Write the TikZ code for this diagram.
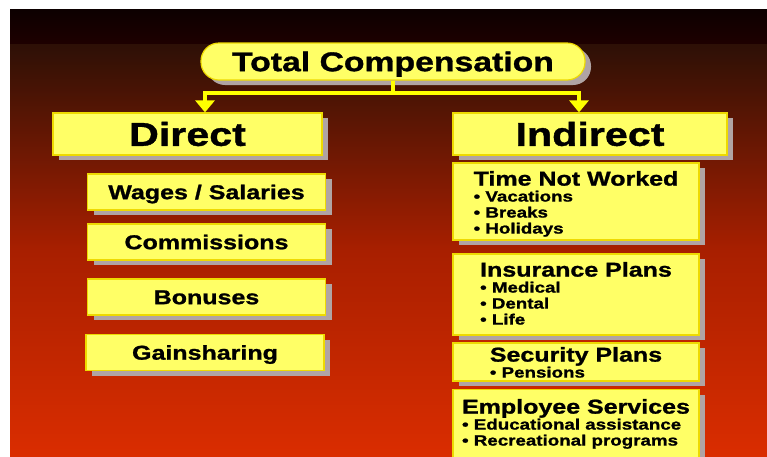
\documentclass[tikz,border=0pt]{standalone}
\usepackage{fontspec}
\newfontfamily\cfont{Liberation Sans}[FakeStretch=1.25, BoldFeatures={FakeBold=1.2}]
\usepackage{tikz}
\usetikzlibrary{positioning,shadows,arrows.meta}
\usepackage{xcolor}
\definecolor{boxyellow}{RGB}{255,255,102}
\definecolor{boxedge}{RGB}{238,218,0}
\definecolor{linkyellow}{RGB}{255,255,0}
\definecolor{shadowgray}{RGB}{176,164,164}
\definecolor{bandtop}{RGB}{12,0,0}
\definecolor{bandbot}{RGB}{30,0,0}
\definecolor{bgtop}{RGB}{45,16,6}
\definecolor{bgmid}{RGB}{168,31,0}
\definecolor{bgbot}{RGB}{218,45,0}

\begin{document}
\begin{tikzpicture}[
    x=1pt, y=-1pt,
    box/.style={draw=boxedge, line width=1.2pt, fill=boxyellow, inner sep=0pt,
        drop shadow={shadow xshift=6pt, shadow yshift=-5pt, fill=shadowgray, opacity=1}},
    head/.style={box, minimum height=42pt, text height=23.6pt, text depth=0pt,
        font=\cfont\bfseries\fontsize{33}{36}\selectfont},
    item/.style={box, minimum width=238pt, minimum height=36pt, text height=14.3pt, text depth=0pt,
        font=\cfont\bfseries\fontsize{20}{24}\selectfont},
    panel/.style={box, minimum width=246pt},
    blurb/.style={align=left, inner sep=0pt, font=\cfont\bfseries\fontsize{15}{16}\selectfont},
    link/.style={draw=linkyellow, line width=4pt},
    tip/.style={-{Triangle[width=19pt, length=12pt]}}
]
    % Background
    \fill[white] (0,0) rectangle (767,456);
    \shade[top color=bandtop, bottom color=bandbot] (10,9) rectangle (767,44);
    \shade[top color=bgtop, bottom color=bgbot, middle color=bgmid] (10,44) rectangle (767,456);
    \useasboundingbox (0,0) rectangle (767,456);

    % Top
    \node[box, rounded corners=18pt, minimum width=384pt, minimum height=37pt,
        text height=19.3pt, text depth=0pt,
        font=\cfont\bfseries\fontsize{27}{30}\selectfont] (tot) at (393,61.5) {Total Compensation};

    % Heads
    \node[head, minimum width=269pt] (dir) at (187.5,134) {Direct};
    \node[head, minimum width=274pt] (ind) at (590,134) {Indirect};

    % Connectors
    \coordinate (jn) at (393,93);
    \draw[link] (tot.south) -- (jn);
    \draw[link, tip] (jn) -| ([xshift=17.5pt]dir.north);
    \draw[link, tip] (jn) -| ([xshift=-11pt]ind.north);

    % Direct items
    \foreach \n/\x/\y/\t in {wag/206.5/192/{Wages / Salaries}, com/206.5/242/Commissions,
        bon/206.5/297/Bonuses, gai/205/352.5/Gainsharing} {
        \node[item] (\n) at (\x,\y) {\t};
    }

    % Indirect panels
    \node[panel, minimum height=77pt] (tnw) at (576,201.5) {};
    \node[panel, minimum height=81pt] (ins) at (576,294.5) {};
    \node[panel, minimum height=38pt] (sec) at (576,362) {};
    \node[panel, minimum height=80pt] (emp) at (576,429.5) {};

    \node[blurb, below=8.5pt of tnw.north] (tnwt) {{\fontsize{20}{24}\selectfont Time Not Worked}\\
        \textbullet\ Vacations\\ \textbullet\ Breaks\\ \textbullet\ Holidays};
    \node[blurb, below=8.5pt of ins.north] (inst) {{\fontsize{20}{24}\selectfont Insurance Plans}\\
        \textbullet\ Medical\\ \textbullet\ Dental\\ \textbullet\ Life};
    \node[blurb, below=4.5pt of sec.north] (sect) {{\fontsize{20}{24}\selectfont Security Plans}\\
        \textbullet\ Pensions};
    \node[blurb, below=10pt of emp.north] (empt) {{\fontsize{20}{24}\selectfont Employee Services}\\
        \textbullet\ Educational assistance\\ \textbullet\ Recreational programs};
\end{tikzpicture}
\end{document}
